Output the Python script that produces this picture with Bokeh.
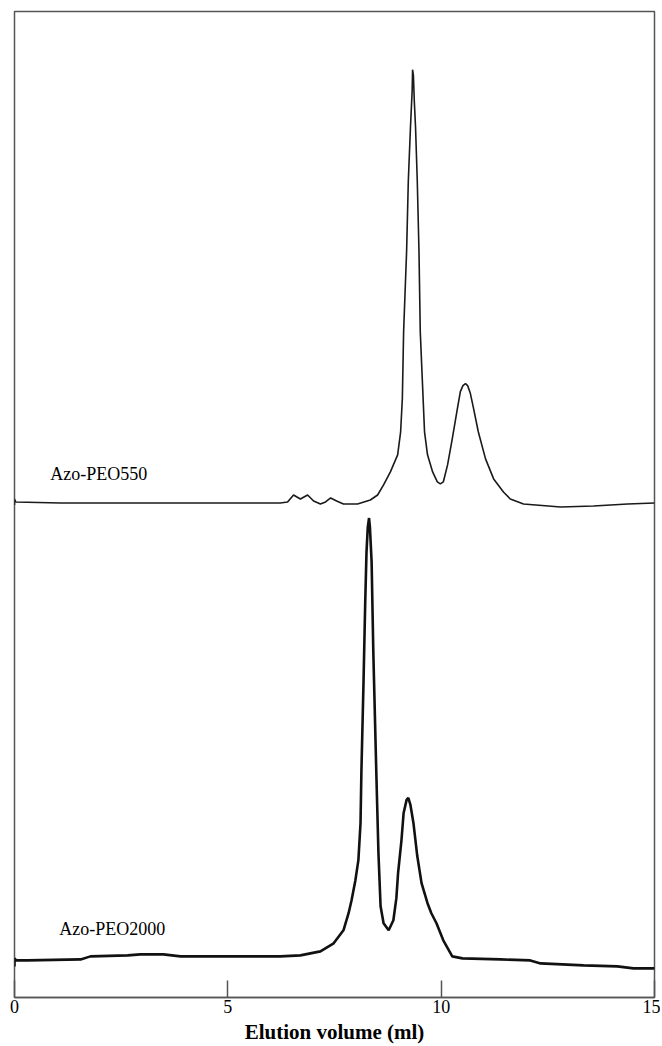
from bokeh.plotting import figure
from bokeh.models import Range1d, FixedTicker
from bokeh.core.properties import value
from bokeh.embed import file_html
from bokeh.resources import INLINE

# Elution volume (ml) and detector response (arbitrary units)
peo550_x = [0.00, 0.00, 0.03, 1.08, 2.48, 4.36, 6.23, 6.40, 6.54, 6.70, 6.87, 7.01, 7.17, 7.29, 7.41, 7.55,
            7.71, 8.04, 8.34, 8.51, 8.65, 8.81, 8.88, 8.98, 9.05, 9.09, 9.12, 9.19, 9.23, 9.28,
            9.32, 9.33, 9.35, 9.37, 9.40, 9.44, 9.48, 9.51, 9.56, 9.61, 9.68, 9.80, 9.91, 9.98,
            10.05, 10.15, 10.26, 10.38, 10.45, 10.51, 10.57, 10.62, 10.68, 10.76, 10.87, 11.04, 11.23, 11.46,
            11.62, 11.93, 12.80, 13.57, 14.37, 15.00]
peo550_y = [491, 497, 494, 493, 493, 493, 493, 494, 501, 497, 501, 495, 492, 494, 498, 495,
            492, 492, 496, 501, 511, 524, 531, 541, 564, 597, 664, 744, 814, 867,
            904, 925, 919, 894, 867, 814, 744, 664, 614, 564, 541, 524, 514, 512,
            514, 531, 557, 587, 604, 610, 612, 610, 603, 587, 564, 537, 517, 504,
            497, 492, 489, 490, 492, 493]

peo2000_x = [0.00, 0.00, 0.04, 0.30, 1.55, 1.78, 2.65, 2.95, 3.49, 3.89, 4.99, 6.23, 6.70, 7.17, 7.48, 7.71,
             7.83, 7.90, 7.99, 8.06, 8.11, 8.13, 8.18, 8.22, 8.25, 8.28, 8.31, 8.33, 8.37, 8.41,
             8.48, 8.53, 8.58, 8.65, 8.77, 8.88, 8.95, 8.99, 9.07, 9.12, 9.19, 9.23, 9.28, 9.35,
             9.44, 9.54, 9.68, 9.77, 9.89, 10.05, 10.26, 10.50, 11.39, 12.09, 12.33, 13.34,
             14.13, 14.51, 15.00]
peo2000_y = [31, 39, 37, 37, 38, 41, 42, 43, 43, 41, 41, 41, 42, 46, 54, 67,
             84, 97, 117, 137, 174, 224, 314, 394, 444, 469, 478, 469, 434, 344,
             224, 144, 91, 74, 67, 77, 99, 124, 157, 184, 197, 199, 192, 174,
             141, 114, 94, 84, 74, 57, 41, 39, 38, 37, 34, 32,
             31, 29, 29]

x_ticks = [0, 5, 10, 15]
labels = ["Azo-PEO550", "Azo-PEO2000"]
label_x = [0.84, 1.05]
label_y = [522, 68]

p = figure(width=660, height=1046, output_backend="svg", toolbar_location=None,
           x_range=Range1d(0, 15), y_range=Range1d(0, 983),
           min_border_left=14, min_border_right=6, min_border_top=11, min_border_bottom=0)

p.background_fill_color = "white"
p.border_fill_color = "white"
p.outline_line_color = "#555555"
p.outline_line_width = 1.5
p.xgrid.visible = False
p.ygrid.visible = False
p.yaxis.visible = False

ax = p.xaxis[0]
ax.ticker = FixedTicker(ticks=x_ticks)
ax.minor_tick_line_color = None
ax.major_tick_in = 17
ax.major_tick_out = 0
ax.major_tick_line_color = "#555555"
ax.major_tick_line_width = 1.5
ax.axis_line_color = "#555555"
ax.axis_line_width = 1.5
ax.major_label_text_font = "Liberation Serif"
ax.major_label_text_font_size = "18px"
ax.major_label_text_color = "black"
ax.major_label_standoff = 2
ax.axis_label = "Elution volume (ml)"
ax.axis_label_text_font = "Liberation Serif"
ax.axis_label_text_font_style = "bold"
ax.axis_label_text_font_size = "21px"
ax.axis_label_text_color = "black"
ax.axis_label_standoff = 4

p.line(peo550_x, peo550_y, line_color="#1a1a1a", line_width=1.6)
p.line(peo2000_x, peo2000_y, line_color="#111111", line_width=2.6)

p.text(x=label_x, y=label_y, text=labels, text_font=value("Liberation Serif"),
       text_font_size="18px", text_color="black", text_baseline="alphabetic",
       text_align="left")

open("out.html", "w").write(file_html(p, INLINE))
